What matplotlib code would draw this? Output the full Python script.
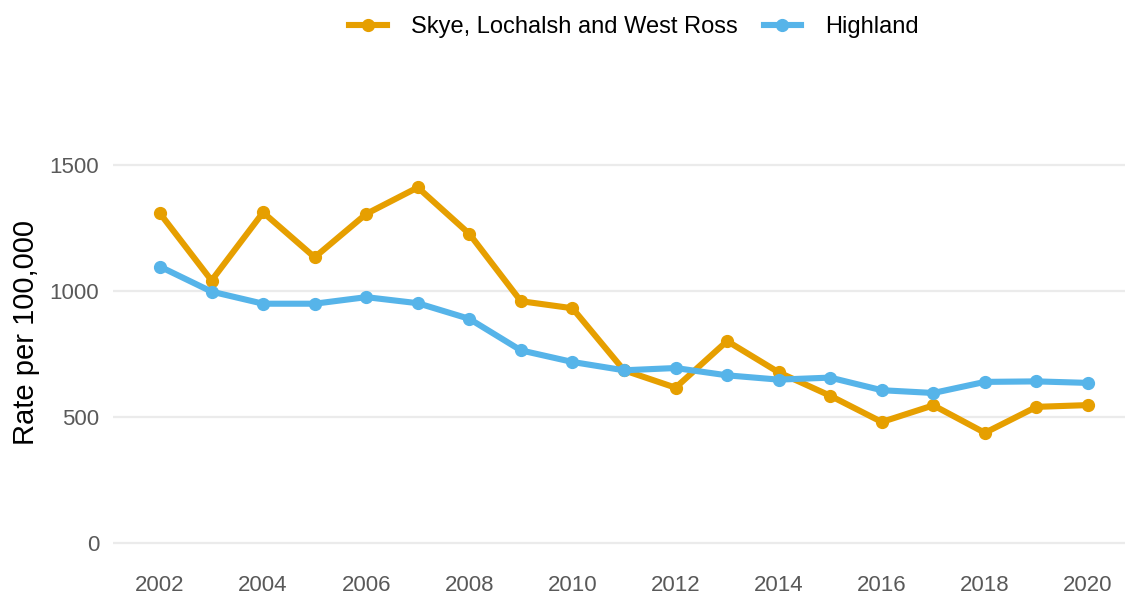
import numpy as np
import matplotlib as mpl
mpl.use('Agg')
import matplotlib.pyplot as plt

years = list(range(2002, 2021))
skye = [1308, 1042, 1312, 1134, 1306, 1411, 1227, 960, 932, 686, 617, 802, 678, 585, 481, 547, 438, 541, 548]
highland = [1097, 998, 950, 950, 976, 952, 890, 765, 719, 686, 695, 666, 649, 657, 607, 596, 640, 642, 636]
xticks = list(range(2002, 2021, 2))
yticks = [0, 500, 1000, 1500]

plt.rcParams['font.family'] = ['Liberation Sans', 'DejaVu Sans']

W, H = 1125, 596
fig = plt.figure(figsize=(W / 100, H / 100), dpi=100)
# axes placed in pixel terms: left 113, right 1125, top 114, bottom 551
left, right, top, bottom = 113, 1125, 114, 551
ax = fig.add_axes([left / W, 1 - bottom / H, (right - left) / W, (bottom - top) / H])

orange = '#E69F00'
blue = '#56B4E9'
ax.plot(years, skye, color=orange, lw=4.4, marker='o', ms=8.5, label='Skye, Lochalsh and West Ross', zorder=3)
ax.plot(years, highland, color=blue, lw=4.4, marker='o', ms=8.5, label='Highland', zorder=3)

# y limits chosen so 0 -> 543px and 1500 -> 165px
ppu = (543.3 - 165) / 1500
ax.set_ylim(-(bottom - 543.3) / ppu, (543.3 - top) / ppu)
ppy = (1088 - 160) / 18
ax.set_xlim(2002 - (160 - left) / ppy, 2020 + (right - 1088) / ppy)

ax.set_yticks(yticks)
ax.set_xticks(xticks)
ax.grid(axis='y', color='#EBEBEB', lw=1.6, zorder=0)
ax.grid(axis='x', visible=False)
for s in ax.spines.values():
    s.set_visible(False)
ax.tick_params(axis='both', length=0, labelsize=16, colors='#595959')
ax.tick_params(axis='y', pad=10)
ax.tick_params(axis='x', pad=17)
ax.set_ylabel('Rate per 100,000', fontsize=21, color='black', labelpad=7)

fig.legend(loc='center', bbox_to_anchor=(634 / W, 1 - 27 / H), ncol=2, frameon=False,
           fontsize=17, handlelength=1.6, columnspacing=1.1, handletextpad=1.0)

fig.savefig('out.png', dpi=100)
